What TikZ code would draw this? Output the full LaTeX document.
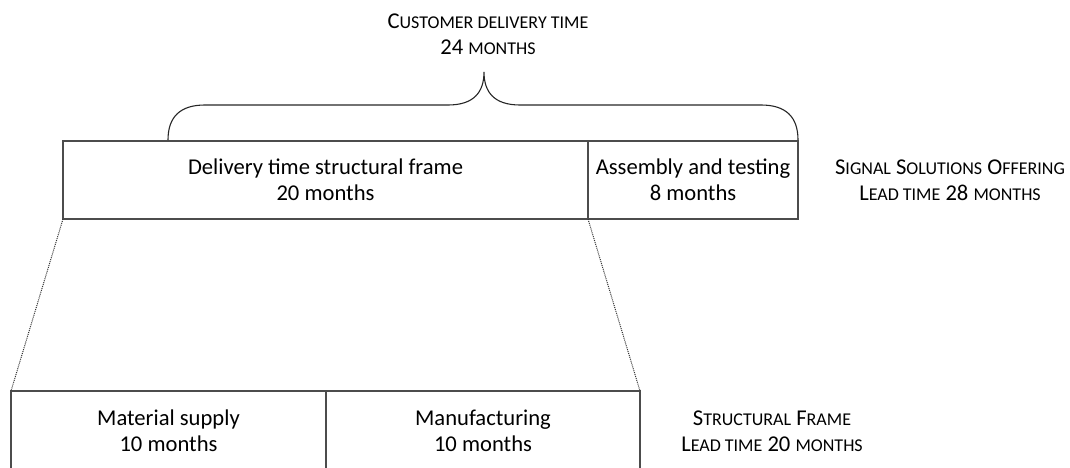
\documentclass[tikz,border=0pt]{standalone}
\usepackage{fontspec}
\setmainfont{Carlito}
\usetikzlibrary{positioning}
\newcommand{\smallcap}[1]{{\fontsize{18}{26}\selectfont #1}}
\tikzset{
stage/.style={
  draw=black!70,
  line width=1.2pt,
  outer sep=0pt,
  inner sep=0pt,
  align=center,
  font=\fontsize{22.6}{26}\selectfont
  },
lbl/.style={
  inner sep=0pt,
  align=center,
  font=\fontsize{22.6}{26}\selectfont
  },
zoomline/.style={draw=black!80, line width=1pt, densely dotted},
brace/.style={draw=black!85, line width=1.1pt}
}
\begin{document}
\begin{tikzpicture}[x=1pt,y=-1pt]
            \useasboundingbox (0,0) rectangle (1070,468);
            \node[stage,anchor=north west,minimum width=525pt,minimum height=78pt] (frame) at (63,141) {Delivery time structural frame\\20 months};
            \node[stage,minimum width=210pt,minimum height=78pt,right=0pt of frame] (assembly) {Assembly and testing\\8 months};
            \node[stage,anchor=north west,minimum width=315pt,minimum height=80pt] (supply) at (11,391) {Material supply\\10 months};
            \node[stage,minimum width=314pt,minimum height=80pt,right=0pt of supply] (manufacturing) {Manufacturing\\10 months};
            \node[lbl] (customer) at (488,34) {C\smallcap{USTOMER DELIVERY TIME}\\24 \smallcap{MONTHS}};
            \node[lbl] (offering) at (950,180) {S\smallcap{IGNAL} S\smallcap{OLUTIONS} O\smallcap{FFERING}\\L\smallcap{EAD TIME} 28 \smallcap{MONTHS}};
            \node[lbl] (structural) at (772,431) {S\smallcap{TRUCTURAL} F\smallcap{RAME}\\L\smallcap{EAD TIME} 20 \smallcap{MONTHS}};
            \coordinate (brace left) at (168,140);
            \coordinate (brace tip) at (484,72);
            \coordinate (brace right) at (798,140);
            \draw[brace] (brace left) .. controls (168,117) and (180,105) .. (205,105) -- (448,105)
                .. controls (474,105) and (484,92) .. (brace tip)
                .. controls (484,92) and (494,105) .. (520,105) -- (761,105)
                .. controls (786,105) and (798,117) .. (brace right);
            \draw[zoomline] (frame.south west) -- (supply.north west);
            \draw[zoomline] (frame.south east) -- (manufacturing.north east);
        \end{tikzpicture}
\end{document}
